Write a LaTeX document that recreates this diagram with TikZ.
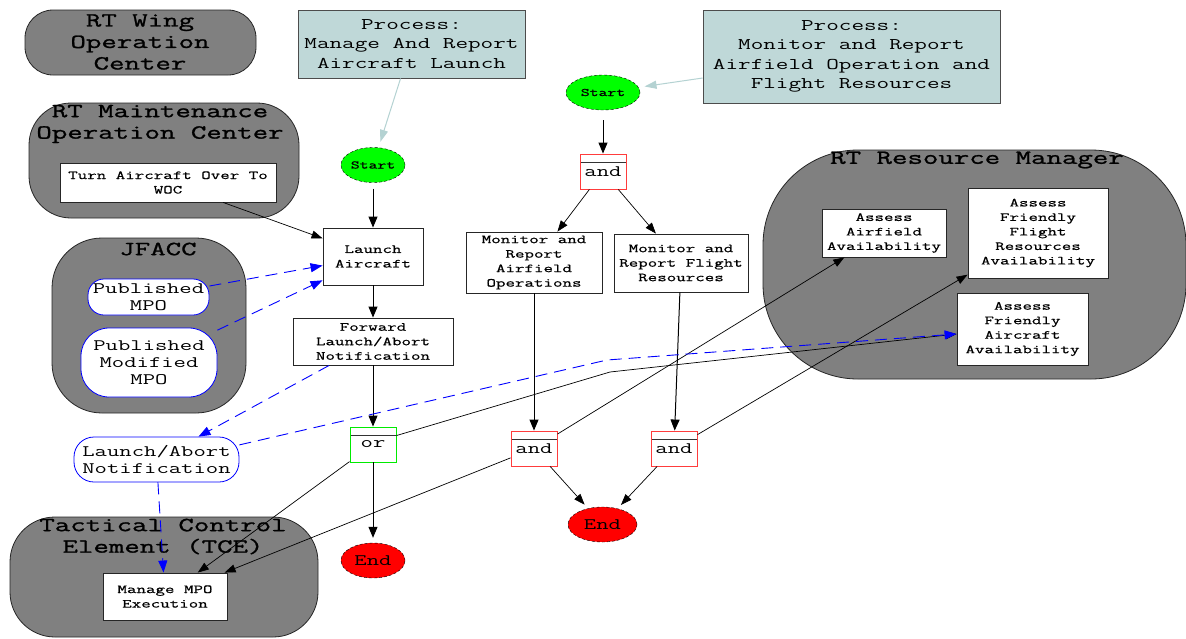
\documentclass[tikz,border=0pt]{standalone}
\usepackage{fontspec}
\usetikzlibrary{arrows.meta,shapes.geometric}
\newfontfamily\cmono[FakeStretch=1.5]{Latin Modern Mono}
\newfontfamily\cmonob[FakeStretch=1.5,FakeBold=1.2]{Latin Modern Mono}
\newfontfamily\cmonos[FakeStretch=1.5,FakeBold=0.6]{Latin Modern Mono}
\definecolor{procfill}{RGB}{191,216,216}
\definecolor{procline}{RGB}{180,210,210}
\definecolor{clgray}{RGB}{128,128,128}
\definecolor{andred}{RGB}{255,60,60}
\definecolor{orgreen}{RGB}{0,235,0}
\definecolor{nblue}{RGB}{0,0,255}
\begin{document}
\begin{tikzpicture}[x=1pt,y=-1pt,
  cluster/.style={draw=black!85, fill=clgray, line width=0.8pt, inner sep=0pt},
  clabel/.style={font=\cmonob\fontsize{20}{21.5}\selectfont, align=center, inner sep=0pt},
  task/.style={draw=black!85, fill=white, line width=0.9pt, inner sep=0pt, align=center, font=\cmonos\fontsize{12.3}{14.5}\selectfont},
  proc/.style={draw=black!70, fill=procfill, line width=0.9pt, inner sep=0pt, align=center, font=\cmono\fontsize{16.3}{19.3}\selectfont},
  info/.style={draw=nblue, fill=white, line width=0.8pt, inner sep=0pt, align=center, font=\cmono\fontsize{16}{16.7}\selectfont},
  startn/.style={ellipse, draw=black, densely dashed, fill=green, inner sep=0pt, font=\cmonob\fontsize{11.5}{12}\selectfont},
  endn/.style={ellipse, draw=black, densely dashed, fill=red, inner sep=0pt, font=\cmono\fontsize{16}{16}\selectfont},
  gate/.style={rectangle, fill=white, line width=0.9pt, minimum width=46pt, minimum height=35pt, inner sep=0pt,
    font=\cmono\fontsize{16}{16}\selectfont,
    path picture={\draw[black!80, line width=0.8pt] ([yshift=-8pt]path picture bounding box.north west) -- ([yshift=-8pt]path picture bounding box.north east);}},
  flow/.style={draw=black, line width=1pt, -{Triangle[length=11pt,width=9pt]}},
  thinflow/.style={draw=black, line width=0.7pt, -{Triangle[length=11pt,width=8pt]}},
  infoflow/.style={draw=nblue, line width=0.9pt, dash pattern=on 12pt off 7pt, -{Triangle[length=12pt,width=9pt]}},
  procflow/.style={draw=procline, line width=1pt, -{Triangle[length=12pt,width=8pt]}, shorten >=6pt}
]
\useasboundingbox (0,0) rectangle (1186,638);
\fill[white] (0,0) rectangle (1186,638);

% clusters
\node[cluster, rounded corners=28pt, minimum width=231pt, minimum height=65pt] (wingC) at (140.5,42.5) {};
\node[cluster, rounded corners=42pt, minimum width=270pt, minimum height=115pt] (maintC) at (164,160.5) {};
\node[cluster, rounded corners=50pt, minimum width=194pt, minimum height=175pt] (jfaccC) at (149,325.5) {};
\node[cluster, rounded corners=45pt, minimum width=308pt, minimum height=120pt] (tceC) at (164,577) {};
\node[cluster, rounded corners=95pt, minimum width=423pt, minimum height=229pt] (resC) at (974.5,264.5) {};

\node[clabel] (wingL) at (140,42) {RT Wing\\Operation\\Center};
\node[clabel] (maintL) at (160,124) {RT Maintenance\\Operation Center};
\node[clabel] (jfaccL) at (158,249) {JFACC};
\node[clabel] (tceL) at (163,536.5) {Tactical Control\\Element (TCE)};
\node[clabel] (resL) at (977,160) {RT Resource Manager};

% process boxes
\node[proc, minimum width=227pt, minimum height=68pt] (proc1) at (411.5,44) {Process:\\Manage And Report\\Aircraft Launch};
\node[proc, minimum width=297pt, minimum height=93pt] (proc2) at (851.5,56.5) {Process:\\Monitor and Report\\Airfield Operation and\\Flight Resources};

% start / end
\node[startn, minimum width=64pt, minimum height=35pt] (start1) at (373,165) {Start};
\node[startn, minimum width=74pt, minimum height=35pt] (start2) at (603,92.5) {Start};
\node[endn, minimum width=64pt, minimum height=35pt] (end1) at (373,560.5) {End};
\node[endn, minimum width=69pt, minimum height=35pt] (end2) at (602.5,524.5) {End};

% gates
\node[gate, draw=andred] (and1) at (603,171.5) {\raisebox{-4pt}{and}};
\node[gate, draw=orgreen] (or1) at (373,444.5) {\raisebox{-4pt}{or}};
\node[gate, draw=andred] (and2) at (534,448.5) {\raisebox{-4pt}{and}};
\node[gate, draw=andred] (and3) at (674,448.5) {\raisebox{-4pt}{and}};

% tasks
\node[task, minimum width=216pt, minimum height=39pt] (turn) at (168,182.5) {Turn Aircraft Over To\\WOC};
\node[task, minimum width=100pt, minimum height=57pt] (launch) at (373,256.5) {Launch\\Aircraft};
\node[task, minimum width=160pt, minimum height=47pt] (forward) at (373,341.5) {Forward\\Launch/Abort\\Notification};
\node[task, minimum width=136pt, minimum height=61pt] (monAir) at (534,262.5) {Monitor and\\Report\\Airfield\\Operations};
\node[task, minimum width=134pt, minimum height=58pt] (monFl) at (681,263) {Monitor and\\Report Flight\\Resources};
\node[task, minimum width=124pt, minimum height=48pt] (assessAir) at (884,233) {Assess\\Airfield\\Availability};
\node[task, minimum width=140pt, minimum height=90pt] (assessFFR) at (1038,233) {Assess\\Friendly\\Flight\\Resources\\Availability};
\node[task, minimum width=131pt, minimum height=72pt] (assessFA) at (1022.5,329) {Assess\\Friendly\\Aircraft\\Availability};
\node[task, minimum width=124pt, minimum height=47pt] (manageMPO) at (165,596.5) {Manage MPO\\Execution};

% information nodes
\node[info, rounded corners=20pt, minimum width=165pt, minimum height=45pt] (launchAbort) at (156.5,459.5) {Launch/Abort\\Notification};
\node[info, rounded corners=16pt, minimum width=121pt, minimum height=36pt] (pubMPO) at (148.5,297) {Published\\MPO};
\node[info, rounded corners=28pt, minimum width=136pt, minimum height=69pt] (pubMod) at (149,362.5) {Published\\Modified\\MPO};

% bend points
\coordinate (bendA) at (610,372);
\coordinate (bendB) at (607,360);

% edges
\draw[procflow] (proc1) -- (start1);
\draw[procflow] (proc2) -- (start2);
\draw[flow, shorten <=6pt] (start1) -- (launch);
\draw[flow, shorten <=10pt] (start2) -- (and1);
\draw[flow] (launch) -- (forward);
\draw[flow] (forward) -- (or1);
\draw[flow, shorten >=5pt] (or1) -- (end1);
\draw[thinflow] (and1) -- (monAir);
\draw[thinflow] (and1) -- (monFl);
\draw[flow] (monAir) -- (and2);
\draw[flow] (monFl) -- (and3);
\draw[thinflow, shorten >=5pt] (and2) -- (end2);
\draw[thinflow, shorten >=5pt] (and3) -- (end2);
\draw[thinflow] (turn) -- (launch);
\draw[thinflow] (and2) -- (assessAir);
\draw[thinflow] (and2) -- (manageMPO);
\draw[thinflow] (and3) -- (assessFFR);
\draw[thinflow] (or1) -- (manageMPO);
\draw[thinflow] ([yshift=-9pt]or1.north east) -- (bendA) -- ([yshift=-5pt]assessFA.west);

\draw[infoflow] (pubMPO) -- (launch);
\draw[infoflow] (pubMod) -- (launch);
\draw[infoflow] (forward) -- (launchAbort);
\draw[infoflow] (launchAbort) -- (manageMPO);
\draw[infoflow] (launchAbort.10) -- (bendB) -- ([yshift=-5pt]assessFA.west);
\end{tikzpicture}
\end{document}
